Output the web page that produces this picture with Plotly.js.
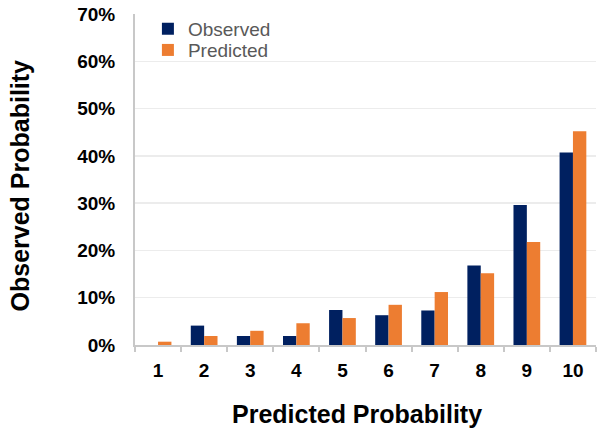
<!DOCTYPE html>
<html>
<head>
<meta charset="utf-8">
<script src="https://cdn.plot.ly/plotly-3.0.1.min.js"></script>
<style>html,body{margin:0;padding:0;background:#fff;}#chart{width:598px;height:438px;}</style>
</head>
<body>
<div id="chart"></div>
<script>
const categories = ['1','2','3','4','5','6','7','8','9','10'];
const observed = [0.000, 0.041, 0.019, 0.019, 0.074, 0.063, 0.073, 0.168, 0.296, 0.407];
const predicted = [0.007, 0.019, 0.030, 0.046, 0.057, 0.085, 0.112, 0.152, 0.218, 0.452];
const yTickVals = [0, 0.1, 0.2, 0.3, 0.4, 0.5, 0.6, 0.7];
const yTickText = ['0%', '10%', '20%', '30%', '40%', '50%', '60%', '70%'];
const xTitle = 'Predicted Probability';
const yTitle = 'Observed Probability';

const traces = [
  {type: 'bar', name: 'Observed', x: categories, y: observed, marker: {color: '#002060'}, hoverinfo: 'none', legend: 'legend'},
  {type: 'bar', name: 'Predicted', x: categories, y: predicted, marker: {color: '#ED7D31'}, hoverinfo: 'none', legend: 'legend2'}
];

const legendStyle = {xanchor: 'left', yanchor: 'middle', bgcolor: 'rgba(0,0,0,0)',
                     font: {size: 19, color: '#595959'}, itemwidth: 30};

const layout = {
  width: 598, height: 438,
  margin: {l: 135, r: 2, t: 14, b: 93},
  paper_bgcolor: '#ffffff', plot_bgcolor: '#ffffff',
  font: {family: 'Liberation Sans, Arial, sans-serif', color: '#000'},
  barmode: 'group', bargap: 0.42, bargroupgap: 0,
  showlegend: true,
  legend: Object.assign({x: 0.028, y: 0.955}, legendStyle),
  legend2: Object.assign({x: 0.028, y: 0.891}, legendStyle),
  xaxis: {
    type: 'category', tickson: 'boundaries', ticks: 'outside', ticklen: 5, tickcolor: '#c8c8c8', tickwidth: 2,
    showline: true, linecolor: '#c8c8c8', linewidth: 2, showgrid: false,
    tickfont: {size: 19, color: '#000', weight: 'bold'}, ticklabelstandoff: 7
  },
  yaxis: {
    range: [0, 0.7], tickvals: yTickVals, ticktext: yTickText,
    showline: true, linecolor: '#c8c8c8', linewidth: 2, showgrid: true, gridcolor: '#ececec', gridwidth: 1.5,
    zeroline: false, ticks: '',
    tickfont: {size: 19, color: '#000', weight: 'bold'}, ticklabelstandoff: 14
  },
  annotations: [
    {text: xTitle, xref: 'paper', yref: 'paper', x: 0.4816, y: -0.2085, xanchor: 'center', yanchor: 'middle',
     showarrow: false, font: {size: 25, weight: 'bold', color: '#000'}},
    {text: yTitle, xref: 'paper', yref: 'paper', x: -0.2495, y: 0.482, xanchor: 'center', yanchor: 'middle',
     textangle: -90, showarrow: false, font: {size: 25, weight: 'bold', color: '#000'}}
  ]
};

Plotly.newPlot('chart', traces, layout, {displayModeBar: false, staticPlot: true});
</script>
</body>
</html>
